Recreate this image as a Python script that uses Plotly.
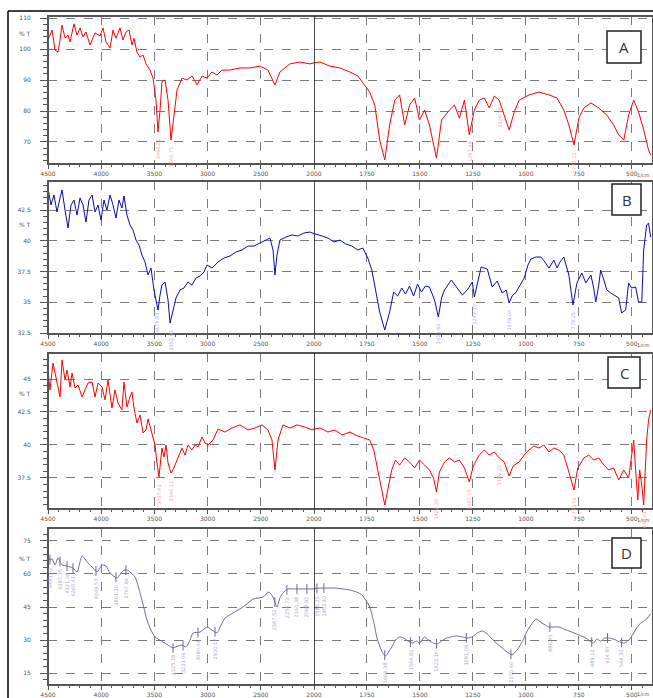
import numpy as np
import plotly.graph_objects as go

# ---------------- data (wavenumber cm-1, %T) ----------------
wn_A = [4500,4462,4434,4406,4387,4368,4340,4312,4293,4256,4227,4199,4171,4143,4105,4058,4011,3983,3955,3917,
        3889,3861,3823,3795,3767,3739,3710,3692,3664,3635,3607,3579,3541,3513,3485,3466,3447,3429,3400,3372,
        3344,3316,3287,3240,3193,3146,3099,3052,3006,2959,2912,2865,2789,2696,2602,2508,2433,2367,2320,2226,
        2132,2038,1972,1925,1878,1831,1793,1765,1737,1713,1690,1666,1643,1619,1596,1572,1549,1525,1502,1478,
        1455,1422,1398,1361,1337,1314,1290,1267,1243,1220,1196,1173,1149,1126,1102,1079,1055,1032,985,938,
        891,853,821,797,773,750,726,693,656,618,586,562,538,515,491,468,444,421,411]
t_A = [102.9,106.1,99.7,99.0,102.9,107.7,103.5,104.5,102.3,108.1,104.5,106.8,103.9,105.5,101.3,105.2,104.2,106.8,102.3,100.3,
       106.1,103.5,106.8,102.9,105.5,106.1,101.3,103.5,99.0,97.4,98.1,95.2,93.2,90.6,83.5,73.2,80.3,89.4,90.0,83.5,
       70.6,78.7,86.8,90.6,90.0,91.3,88.4,91.3,90.6,92.6,91.6,93.2,93.2,93.9,93.9,94.5,93.2,88.4,92.6,95.2,
       95.8,95.2,95.8,94.5,93.9,92.6,91.3,88.7,86.1,81.9,70.6,64.2,75.5,83.5,85.2,75.5,81.9,84.2,77.1,80.3,
       75.5,64.8,77.1,80.3,81.9,77.7,83.5,72.3,80.3,83.5,84.2,81.0,84.8,83.5,78.7,73.9,79.7,83.5,85.2,86.1,
       85.2,84.2,80.3,75.5,69.0,77.7,81.0,82.6,81.0,78.7,75.5,72.3,70.6,78.7,83.5,79.7,73.9,67.4,65.8]

wn_B = [4500,4472,4444,4415,4387,4368,4340,4312,4284,4256,4227,4199,4171,4143,4115,4086,4058,4030,4002,3974,
        3946,3917,3889,3861,3833,3805,3786,3758,3729,3701,3673,3645,3617,3588,3560,3532,3504,3485,3466,3447,
        3429,3400,3372,3353,3325,3297,3259,3222,3184,3147,3109,3071,3034,3006,2959,2902,2846,2790,2733,2677,
        2620,2564,2508,2451,2414,2385,2367,2348,2320,2263,2207,2150,2094,2038,1991,1962,1934,1906,1878,1850,
        1821,1793,1770,1746,1727,1709,1690,1666,1643,1624,1605,1586,1568,1549,1530,1511,1493,1474,1455,1431,
        1413,1398,1384,1352,1323,1300,1276,1253,1243,1229,1211,1182,1159,1135,1112,1093,1079,1065,1046,1027,
        1008,990,976,952,929,910,891,868,853,839,821,797,778,759,736,717,693,680,670,656,
        647,632,618,599,586,562,548,529,515,501,482,468,453,444,430,421,411]
t_B = [44.29,42.91,43.72,42.34,43.48,44.13,42.50,41.04,42.91,43.31,42.09,43.48,42.91,41.52,43.31,43.72,42.34,42.91,41.69,43.31,
       42.50,43.72,42.91,41.85,43.31,42.66,43.64,42.09,41.28,40.87,40.06,39.65,38.84,38.27,37.22,37.78,36.00,35.18,34.37,35.59,
       36.40,36.65,35.18,33.31,34.37,35.35,36.00,36.16,36.65,36.40,36.97,37.13,37.46,38.03,37.78,38.27,38.60,38.76,39.09,39.25,
       39.57,39.57,39.82,40.06,40.22,39.25,37.22,38.84,40.06,40.30,40.47,40.39,40.63,40.71,40.55,40.39,40.22,39.90,40.06,39.74,
       39.57,39.25,39.41,38.60,37.62,36.00,34.21,32.74,34.21,35.83,35.51,36.16,35.67,36.32,35.51,36.48,35.83,36.32,36.24,35.18,
       33.80,35.35,36.00,36.81,36.16,35.59,36.00,36.65,35.43,36.40,37.87,37.70,36.24,36.73,35.75,36.00,34.94,35.51,35.83,36.40,
       36.97,38.03,38.52,38.68,38.68,38.27,37.78,38.43,37.78,38.27,38.68,37.22,34.78,36.57,37.38,36.57,37.22,36.16,35.02,36.40,
       37.62,36.81,36.00,35.75,35.59,35.35,34.13,34.37,36.57,36.16,36.24,35.02,35.02,39.25,41.28,41.44,40.30]

wn_C = [4500,4481,4453,4415,4387,4368,4340,4321,4293,4274,4246,4218,4180,4152,4124,4086,4058,4030,3992,3964,
        3936,3899,3870,3842,3805,3786,3758,3729,3711,3692,3664,3635,3607,3579,3560,3532,3513,3494,3476,3457,
        3438,3429,3410,3391,3372,3344,3325,3297,3278,3241,3212,3184,3147,3118,3090,3053,3024,2996,2949,2902,
        2837,2771,2696,2620,2555,2489,2433,2395,2367,2338,2292,2226,2160,2085,2019,1972,1934,1901,1868,1831,
        1793,1760,1737,1718,1699,1680,1666,1652,1633,1615,1596,1572,1549,1525,1502,1478,1455,1436,1422,1408,
        1384,1361,1337,1314,1290,1267,1248,1220,1196,1173,1149,1126,1102,1079,1060,1032,1008,985,962,938,
        915,891,868,844,821,797,773,755,726,703,680,656,632,609,586,562,538,515,501,491,
        482,472,463,453,444,430,421,411]
t_C = [45.68,44.17,46.21,44.70,43.64,46.44,44.92,45.68,44.39,45.45,44.32,44.55,43.64,44.17,44.70,44.77,43.64,44.70,44.39,43.41,
       44.92,42.80,44.17,43.18,42.65,44.77,42.88,43.64,44.02,42.80,41.67,42.27,40.91,41.14,41.97,41.14,40.53,40.00,38.64,37.58,
       39.09,39.77,39.09,40.00,38.64,37.88,38.11,38.64,39.02,39.77,39.24,40.00,39.62,40.00,39.85,40.61,40.15,40.00,40.38,41.21,
       40.98,41.29,41.52,41.14,41.29,41.52,41.14,40.38,38.11,40.38,41.52,41.29,41.52,41.36,41.14,41.29,40.98,41.14,40.76,40.98,
       40.68,40.53,40.38,39.62,38.11,36.59,35.45,36.59,38.11,38.86,38.48,39.02,38.71,38.26,38.86,38.48,38.11,37.50,36.44,37.95,
       38.71,39.02,38.71,38.86,38.26,37.20,38.41,39.24,39.62,39.24,39.47,39.02,38.71,37.65,38.41,38.71,39.24,39.62,39.92,39.77,
       40.00,39.47,39.77,39.62,39.24,37.95,36.59,38.26,39.02,39.24,38.86,39.02,38.48,38.11,38.26,37.35,38.11,37.50,39.24,40.38,
       38.11,35.83,38.11,36.97,35.45,40.38,41.89,42.65]

wn_D = [4500,4462,4434,4406,4368,4321,4293,4265,4227,4199,4180,4124,4077,4039,3992,3955,3917,3852,3795,3758,
        3729,3682,3635,3598,3570,3532,3494,3419,3372,3325,3278,3241,3203,3165,3137,3071,3006,2959,2912,2874,
        2836,2761,2667,2573,2480,2424,2386,2348,2320,2292,2245,2188,2132,2066,2009,1972,1939,1901,1864,1831,
        1798,1774,1756,1737,1718,1704,1690,1676,1662,1648,1633,1615,1596,1577,1563,1549,1535,1516,1502,1478,
        1455,1436,1417,1398,1375,1352,1328,1300,1276,1253,1229,1206,1182,1164,1140,1112,1088,1065,1046,1032,
        1013,999,976,952,924,891,868,844,821,797,773,750,717,698,680,665,647,628,609,590,
        576,557,538,524,506,491,477,458,435,411]
t_D = [66.4,66.8,64.1,67.3,64.1,63.6,63.2,62.7,60.9,65.5,68.2,65.0,62.7,60.9,64.1,63.6,60.5,58.2,61.4,61.8,
       60.9,58.6,51.4,44.5,39.1,34.5,31.4,29.1,27.7,26.4,27.3,27.7,26.8,30.0,33.2,33.6,35.9,34.5,33.2,36.8,
       40.0,42.3,45.0,48.6,49.5,51.8,49.5,45.0,49.1,51.4,53.2,53.2,53.2,53.2,53.2,53.6,53.6,53.6,53.2,52.7,
       51.8,50.5,48.2,45.0,38.2,31.4,27.3,24.1,22.7,24.5,26.8,30.0,31.4,30.9,30.0,29.1,28.6,29.5,28.6,31.4,
       29.5,28.6,28.2,29.5,30.9,31.4,31.8,31.4,30.9,31.4,33.2,34.1,32.7,30.9,28.6,26.4,24.5,23.2,25.0,26.8,
       30.0,33.2,36.8,39.5,37.7,35.9,35.9,35.9,35.0,34.1,33.2,32.3,30.9,29.5,28.6,30.5,29.5,30.9,30.9,30.5,
       30.0,29.1,28.6,29.1,30.9,33.2,35.5,37.7,39.1,41.8]

peaks_A = [3466.21, 3344.75, 1267.48, 1126.39, 773.11]
peaks_B = [3475.83, 3352.91, 1413.62, 1243.10, 1079.04, 778.25]
peaks_C = [3457.41, 3344.12, 1422.30, 1267.05, 1126.22, 773.54, 444.61]
peaks_D = [4481.72, 4387.35, 4321.08, 4265.41, 4049.57, 3861.20, 3767.64, 3325.18, 3231.06, 3090.44,
           2930.17, 2367.52, 2254.73, 2160.38, 2066.91, 1986.25, 1953.40, 1666.38, 1544.81, 1422.16,
           1281.09, 1070.66, 886.45, 689.12, 614.87, 548.30]

xticks_left = [4500, 4000, 3500, 3000, 2500]
xticks_right = [2000, 1750, 1500, 1250, 1000, 750, 500]
letters = ["A", "B", "C", "D"]
yticks_A = [70, 80, 90, 100, 110]
yticks_B = [32.5, 35, 37.5, 40, 42.5]
yticks_C = [37.5, 40, 42.5, 45]
yticks_D = [15, 30, 45, 60, 75]

# ---------------- layout helpers ----------------
W, H = 653, 698
def px(v): return v / W
def py(v): return 1 - v / H

XL = [px(48), px(314)]
XR = [px(314), 1.0]

panels = [
    dict(wn=wn_A, t=t_A, color="#ff0000", yr=[62.9, 110.65], yt=yticks_A, minor=2,
         dom=[py(164), py(16)], peaks=peaks_A, pc="#f3a3a3", box=(607, 31, 641, 63),
         pt=33, cm=175, spline=False),
    dict(wn=wn_B, t=t_B, color="#0a0ab4", yr=[32.42, 44.86], yt=yticks_B, minor=0.5,
         dom=[py(334), py(181)], peaks=peaks_B, pc="#a9a9e6", box=(612, 184, 641, 215),
         pt=224, cm=345, spline=False),
    dict(wn=wn_C, t=t_C, color="#ff0000", yr=[35.15, 46.97], yt=yticks_C, minor=0.5,
         dom=[py(509), py(353)], peaks=peaks_C, pc="#f3a3a3", box=(608, 357, 640, 388),
         pt=393, cm=520, spline=False),
    dict(wn=wn_D, t=t_D, color="#6b6b96", yr=[9.55, 80.9], yt=yticks_D, minor=3,
         dom=[py(685), py(528)], peaks=peaks_D, pc="#a8a8c6", box=(612, 538, 641, 568),
         pt=558, cm=694, spline=True),
]

def axname(kind, n):
    return kind + "axis" + ("" if n == 1 else str(n))
def axref(kind, n):
    return kind + ("" if n == 1 else str(n))

def split(wn, t):
    wn = np.asarray(wn, float); t = np.asarray(t, float)
    t2000 = float(np.interp(2000, wn[::-1], t[::-1]))
    L = wn >= 2000
    wl = np.append(wn[L], 2000.0); tl = np.append(t[L], t2000)
    wr = np.insert(wn[~L], 0, 2000.0); tr = np.insert(t[~L], 0, t2000)
    return wl, tl, wr, tr

fig = go.Figure()
layout = {}
shapes = []
annotations = []
tickfont = dict(family="DejaVu Sans", size=6, color="#555555")
gridc = "#7a7a7a"

for i, p in enumerate(panels):
    nl, nr, ny = 2 * i + 1, 2 * i + 2, i + 1
    wl, tl, wr, tr = split(p["wn"], p["t"])
    line = dict(color=p["color"], width=1)
    if p["spline"]:
        line.update(shape="spline", smoothing=0.6)
    fig.add_trace(go.Scatter(x=wl, y=tl, xaxis=axref("x", nl), yaxis=axref("y", ny), mode="lines",
                             line=line, hoverinfo="skip", showlegend=False, cliponaxis=True))
    fig.add_trace(go.Scatter(x=wr, y=tr, xaxis=axref("x", nr), yaxis=axref("y", ny), mode="lines",
                             line=line, hoverinfo="skip", showlegend=False, cliponaxis=True))

    common_x = dict(showline=False, zeroline=False, showgrid=True, gridcolor=gridc, griddash="dash",
                    gridwidth=1, ticks="outside", ticklen=4, tickcolor="#555555", tickfont=tickfont,
                    anchor=axref("y", ny), automargin=False)
    layout[axname("x", nl)] = dict(domain=XL, range=[4500, 2000], tickmode="array",
                                   tickvals=xticks_left, ticktext=[str(v) for v in xticks_left],
                                   minor=dict(ticks="outside", ticklen=2, dtick=100, tickcolor="#555555",
                                              showgrid=False, tick0=4500),
                                   **common_x)
    layout[axname("x", nr)] = dict(domain=XR, range=[2000, 400], tickmode="array",
                                   tickvals=xticks_right, ticktext=[str(v) for v in xticks_right],
                                   minor=dict(ticks="outside", ticklen=2, dtick=50, tickcolor="#555555",
                                              showgrid=False, tick0=2000),
                                   **common_x)
    layout[axname("y", ny)] = dict(domain=p["dom"], range=p["yr"], anchor=axref("x", nl),
                                   tickmode="array", tickvals=p["yt"],
                                   ticktext=[("%g" % v) for v in p["yt"]],
                                   showline=False, zeroline=False, showgrid=True, gridcolor=gridc,
                                   griddash="dash", gridwidth=1, ticks="outside", ticklen=7,
                                   tickcolor="#555555", tickfont=tickfont, ticklabelstandoff=8,
                                   automargin=False,
                                   minor=dict(ticks="outside", ticklen=4, dtick=p["minor"],
                                              tickcolor="#555555", showgrid=False, tick0=0))

    # frame
    shapes.append(dict(type="rect", xref="paper", yref="paper", x0=px(48), x1=1.0,
                       y0=p["dom"][0], y1=p["dom"][1], line=dict(color="#555555", width=2),
                       layer="above"))
    # 2000 cm-1 scale break line
    shapes.append(dict(type="line", xref=axref("x", nr), yref=axref("y", ny) + " domain",
                       x0=2000, x1=2000, y0=0, y1=1, line=dict(color="#111111", width=1.5),
                       layer="above"))
    # letter box
    bx0, by0, bx1, by1 = p["box"]
    shapes.append(dict(type="rect", xref="paper", yref="paper", x0=px(bx0), x1=px(bx1),
                       y0=py(by1), y1=py(by0), line=dict(color="#222222", width=1.5),
                       fillcolor="white", layer="above"))
    annotations.append(dict(xref="paper", yref="paper", x=px((bx0 + bx1) / 2), y=py((by0 + by1) / 2),
                            text=letters[i], showarrow=False, xanchor="center", yanchor="middle",
                            font=dict(family="Open Sans", size=15, color="#333333")))
    # % T and 1/cm labels
    annotations.append(dict(xref="paper", yref="paper", x=px(33), y=py(p["pt"]), text="% T",
                            showarrow=False, xanchor="right", yanchor="middle",
                            font=dict(family="DejaVu Sans", size=6, color="#555555")))
    annotations.append(dict(xref="paper", yref="paper", x=px(652), y=py(p["cm"]), text="1/cm",
                            showarrow=False, xanchor="right", yanchor="middle",
                            font=dict(family="DejaVu Sans", size=5, color="#555555")))
    # peak labels
    wn_arr = np.asarray(p["wn"], float)[::-1]
    t_arr = np.asarray(p["t"], float)[::-1]
    pk = np.asarray(p["peaks"], float)
    pk_t = np.interp(pk, wn_arr, t_arr)
    for w, v in zip(pk, pk_t):
        xa = axref("x", nl) if w >= 2000 else axref("x", nr)
        annotations.append(dict(xref=xa, yref=axref("y", ny), x=w, y=v, text="%.2f" % w,
                                textangle=-90, showarrow=False, xanchor="center", yanchor="top",
                                yshift=-5, font=dict(family="DejaVu Sans", size=5, color=p["pc"])))
    if p["spline"]:
        pl = pk >= 2000
        mk = dict(symbol="line-ns-open", size=7, color=p["color"], line=dict(color=p["color"], width=1))
        fig.add_trace(go.Scatter(x=pk[pl], y=pk_t[pl], xaxis=axref("x", nl), yaxis=axref("y", ny),
                                 mode="markers", marker=mk, hoverinfo="skip", showlegend=False))
        fig.add_trace(go.Scatter(x=pk[~pl], y=pk_t[~pl], xaxis=axref("x", nr), yaxis=axref("y", ny),
                                 mode="markers", marker=mk, hoverinfo="skip", showlegend=False))

# outer frame of the figure
shapes.append(dict(type="line", xref="paper", yref="paper", x0=px(8), x1=px(8), y0=py(11), y1=0,
                   line=dict(color="#000000", width=1.5)))
shapes.append(dict(type="line", xref="paper", yref="paper", x0=px(8), x1=1.0, y0=py(11), y1=py(11),
                   line=dict(color="#000000", width=1.5)))

fig.update_layout(width=W, height=H, margin=dict(l=0, r=0, t=0, b=0, autoexpand=False),
                  paper_bgcolor="white", plot_bgcolor="white", showlegend=False,
                  shapes=shapes, annotations=annotations, **layout)

fig.write_html("out.html", config={"displayModeBar": False, "staticPlot": True},
               post_script="document.body.style.margin='0px';document.body.style.overflow='hidden';")
